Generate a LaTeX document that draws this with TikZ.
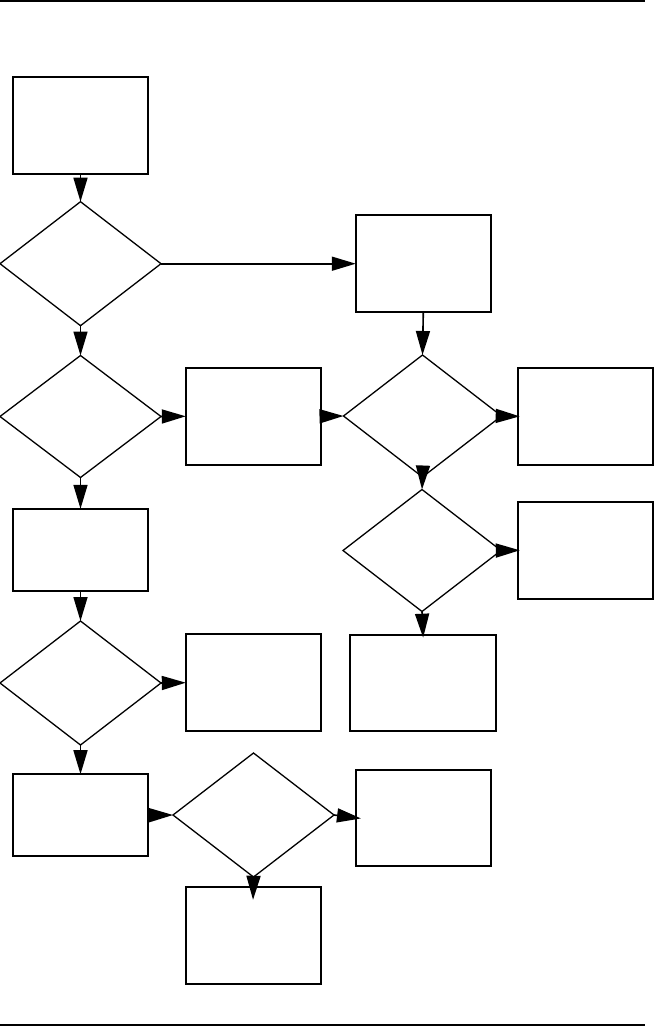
\documentclass[tikz,border=0pt]{standalone}
\usetikzlibrary{shapes.geometric,arrows.meta}
\begin{document}
\begin{tikzpicture}[x=1pt,y=-1pt,
 boxn/.style={draw,line width=1.7pt,rectangle,minimum width=135pt,minimum height=97pt,inner sep=0pt,outer sep=0pt},
 boxs/.style={boxn,minimum height=82pt},
 dia/.style={draw,line width=1.3pt,diamond,minimum width=161pt,minimum height=123pt,inner sep=0pt,outer sep=0pt},
 arr/.style={line width=1.6pt,-{Triangle[length=24pt,width=14pt]}},
 rule/.style={line width=1.4pt}]
\useasboundingbox (0,0) rectangle (654,1027);
% page rules
\coordinate (tl) at (0,1);
\coordinate (tr) at (645,1);
\coordinate (bl) at (0,1025);
\coordinate (br) at (645,1025);
\draw[rule] (tl) -- (tr);
\draw[rule] (bl) -- (br);
% boxes
\node[boxn] (b1) at (80.5,125.3) {};
\node[boxn] (b2) at (423.3,263.7) {};
\node[boxn] (bm1) at (253.3,416.3) {};
\node[boxn] (b3) at (585.2,416.3) {};
\node[boxs] (b4) at (80.5,549.8) {};
\node[boxn] (b5) at (585.3,550.3) {};
\node[boxn] (bm2) at (253.3,682.7) {};
\node[boxn,minimum width=146pt,minimum height=96pt] (b6) at (423,682.7) {};
\node[boxs] (b7) at (80.5,815.2) {};
\node[boxn,minimum height=96pt] (b8) at (423.5,817.8) {};
\node[boxn] (b9) at (253.3,935.3) {};
% diamonds
\node[dia,minimum height=124pt] (d1) at (80.5,263.7) {};
\node[dia,minimum height=122pt] (d3) at (80.5,416.5) {};
\node[dia,minimum height=124pt] (d5) at (80.5,683) {};
\node[dia,minimum width=158pt,minimum height=122pt] (d2) at (422.5,416) {};
\node[dia,minimum width=158pt,minimum height=122pt] (d4) at (422,550.5) {};
\node[dia,minimum height=124pt] (d6) at (253.5,815) {};
% connectors
\draw[arr] (b1.south) -- (d1.north);
\draw[arr] (d1.east) -- (b2.west);
\draw[arr] (d1.south) -- (d3.north);
\draw[arr] (d3.east) -- (bm1.west);
\draw[arr] (d3.south) -- (b4.north);
\draw[arr] (b2.south) -- (d2.north);
\draw[arr] (bm1.east) -- (d2.west);
\draw[arr,shorten >=-2pt] (d2.east) -- (b3.west);
\draw[arr] (d2.south) -- (d4.north);
\draw[arr,shorten >=-2pt] (d4.east) -- (b5.west);
\draw[arr,shorten >=-3pt] (d4.south) -- (b6.north);
\draw[arr] (b4.south) -- (d5.north);
\draw[arr] (d5.east) -- (bm2.west);
\draw[arr] (d5.south) -- (b7.north);
\draw[arr] (b7.east) -- (d6.west);
\draw[arr,shorten >=-5pt] (d6.east) -- (b8.west);
\draw[arr,shorten >=-13pt] (d6.south) -- (b9.north);
\end{tikzpicture}
\end{document}
